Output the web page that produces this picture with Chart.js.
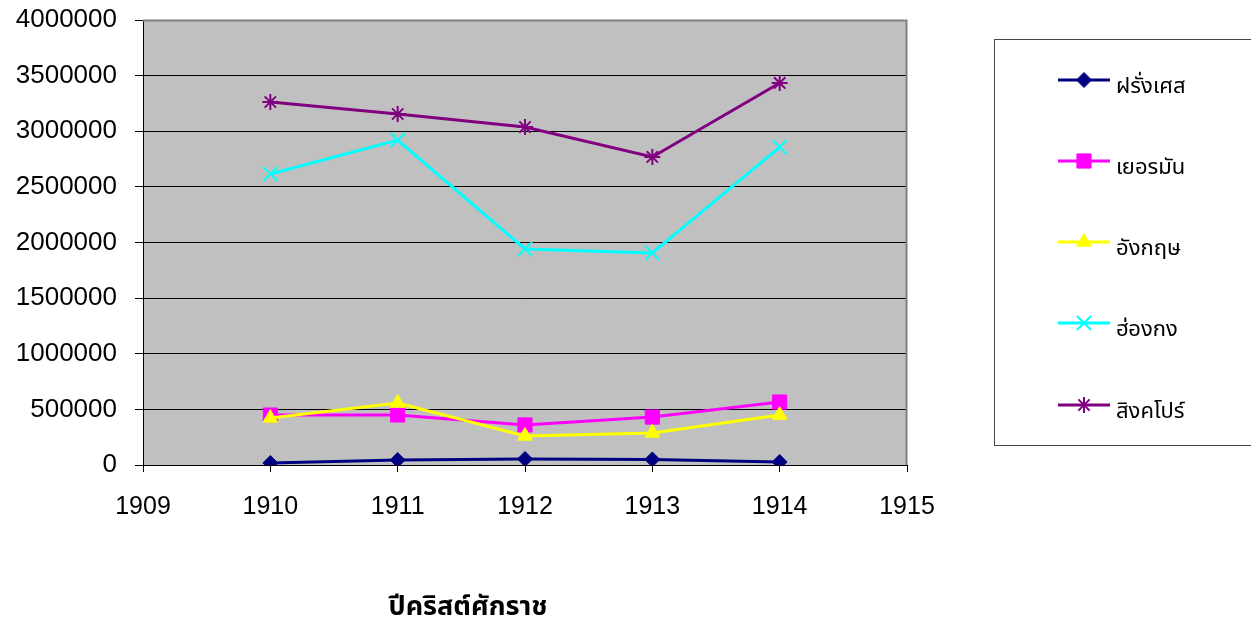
<!DOCTYPE html>
<html>
<head>
<meta charset="utf-8">
<script src="https://cdn.jsdelivr.net/npm/chart.js@4.4.1/dist/chart.umd.min.js"></script>
<style>
html,body{margin:0;padding:0;background:#fff;}
#wrap{width:1251px;height:623px;position:relative;}
</style>
</head>
<body>
<div id="wrap"><canvas id="c" width="1251" height="623"></canvas></div>
<script>
const years = [1910, 1911, 1912, 1913, 1914];
const seriesNames = ['ฝรั่งเศส', 'เยอรมัน', 'อังกฤษ', 'ฮ่องกง', 'สิงคโปร์'];
const france    = [18000, 45000, 54000, 50000, 27000];
const germany   = [449000, 450000, 360000, 431000, 566000];
const england   = [422000, 557000, 261000, 288000, 449000];
const hongkong  = [2616000, 2921000, 1942000, 1906000, 2858000];
const singapore = [3263000, 3155000, 3038000, 2769000, 3434000];
const xTitle = 'ปีคริสต์ศักราช';
const xMin = 1909, xMax = 1915;
const yMax = 4000000, yStep = 500000;

const FONT = "Arial, 'Liberation Sans', 'Noto Sans', 'Noto Sans Thai', sans-serif";
const colors = ['#000080', '#FF00FF', '#FFFF00', '#00FFFF', '#800080'];
const styles = ['rectRot', 'rect', 'triangle', 'crossRot', 'star'];
const radii = [7.5, 10, 8.5, 10, 8];
const bw = [1, 1, 1, 2, 2];
const allValues = [france, germany, england, hongkong, singapore];

const datasets = allValues.map((vals, i) => ({
  label: seriesNames[i],
  data: years.map((y, j) => ({x: y, y: vals[j]})),
  borderColor: colors[i],
  backgroundColor: colors[i],
  borderWidth: 3,
  pointStyle: styles[i],
  pointRadius: radii[i],
  pointHoverRadius: radii[i],
  pointBorderWidth: bw[i],
  pointBackgroundColor: colors[i],
  pointBorderColor: colors[i],
  tension: 0,
  order: 5 - i
}));

function drawMarker(ctx, style, r, x, y, color, lw) {
  const opts = {pointStyle: style, radius: r, rotation: 0, borderWidth: lw};
  ctx.save();
  ctx.fillStyle = color; ctx.strokeStyle = color; ctx.lineWidth = lw;
  if (Chart.helpers && Chart.helpers.drawPoint) {
    Chart.helpers.drawPoint(ctx, opts, x, y);
  }
  ctx.restore();
}

const decor = {
  id: 'decor',
  beforeDatasetsDraw(chart) {
    const {ctx, chartArea: a} = chart;
    ctx.save();
    ctx.strokeStyle = '#808080';
    ctx.lineWidth = 2;
    ctx.beginPath();
    ctx.moveTo(a.left, a.top + 0.5);
    ctx.lineTo(a.right - 0.5, a.top + 0.5);
    ctx.lineTo(a.right - 0.5, a.bottom);
    ctx.stroke();
    ctx.restore();
  },
  afterDraw(chart) {
    const ctx = chart.ctx;
    ctx.save();
    ctx.strokeStyle = '#444';
    ctx.lineWidth = 1;
    ctx.strokeRect(994.5, 39.5, 270, 406);
    const ys = [80, 161, 242, 323, 405];
    seriesNames.forEach((n, i) => {
      ctx.strokeStyle = colors[i];
      ctx.lineWidth = 3;
      ctx.beginPath();
      ctx.moveTo(1058, ys[i]);
      ctx.lineTo(1110, ys[i]);
      ctx.stroke();
      drawMarker(ctx, styles[i], radii[i], 1084, ys[i], colors[i], bw[i]);
      ctx.fillStyle = '#000';
      ctx.font = '22px ' + FONT;
      ctx.textAlign = 'left';
      ctx.textBaseline = 'middle';
      ctx.fillText(n, 1116, ys[i] + 7);
    });
    ctx.fillStyle = '#000';
    ctx.font = 'bold 27px ' + FONT;
    ctx.textAlign = 'center';
    ctx.textBaseline = 'middle';
    ctx.fillText(xTitle, 468, 608);
    ctx.restore();
  }
};

const bgPlugin = {
  id: 'bg',
  beforeDraw(chart) {
    const {ctx, chartArea: a} = chart;
    ctx.save();
    ctx.fillStyle = '#fff';
    ctx.fillRect(0, 0, chart.width, chart.height);
    ctx.fillStyle = '#C0C0C0';
    ctx.fillRect(a.left, a.top, a.right - a.left, a.bottom - a.top);
    ctx.restore();
  }
};

new Chart(document.getElementById('c'), {
  type: 'line',
  data: {datasets},
  options: {
    responsive: false,
    animation: false,
    devicePixelRatio: 1,
    layout: {padding: {left: 0, top: 20, right: 344, bottom: 0}},
    plugins: {legend: {display: false}, tooltip: {enabled: false}},
    scales: {
      x: {
        type: 'linear',
        min: xMin, max: xMax,
        afterFit(s) { s.height = 158; s.paddingLeft = 0; s.paddingRight = 0; },
        ticks: {stepSize: 1, color: '#000', font: {family: FONT, size: 25}, padding: 20,
                callback: v => String(v)},
        grid: {drawOnChartArea: false, drawTicks: true, tickLength: 7, color: '#000'},
        border: {display: true, color: '#000', width: 1}
      },
      y: {
        min: 0, max: yMax,
        afterFit(s) { s.width = 143; s.paddingTop = 0; s.paddingBottom = 0; },
        ticks: {stepSize: yStep, color: '#000', font: {family: FONT, size: 26}, padding: 18,
                callback: v => String(v)},
        grid: {color: '#000', lineWidth: 1, tickLength: 8, drawTicks: true},
        border: {display: true, color: '#000', width: 1}
      }
    }
  },
  plugins: [bgPlugin, decor]
});
</script>
</body>
</html>
